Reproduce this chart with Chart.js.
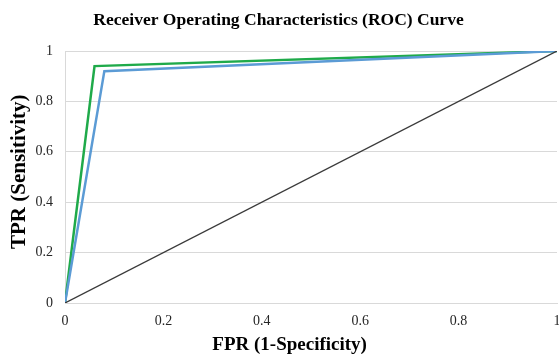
<!DOCTYPE html>
<html>
<head>
<meta charset="utf-8">
<script src="https://cdn.jsdelivr.net/npm/chart.js@4"></script>
<style>
  html, body { margin: 0; padding: 0; background: #fff; }
  #wrap { width: 559px; height: 358px; }
</style>
</head>
<body>
<div id="wrap"><canvas id="myChart" width="559" height="358"></canvas></div>
<script>
// ROC points
const fprGreen = [0, 0.06, 1];
const tprGreen = [0, 0.94, 1];
const fprBlue = [0, 0.08, 1];
const tprBlue = [0, 0.92, 1];
const fprDiag = [0, 1];
const tprDiag = [0, 1];
const tickValues = [0, 0.2, 0.4, 0.6, 0.8, 1];
const tickLabels = ['0', '0.2', '0.4', '0.6', '0.8', '1'];

const toPoints = function (xs, ys) {
    return xs.map((x, i) => ({ x: x, y: ys[i] }));
};

const tickLabel = function (value) {
    let i = tickValues.findIndex(v => Math.abs(v - value) < 1e-6);
    return i >= 0 ? tickLabels[i] : '';
};

const serif = '"Liberation Serif", "DejaVu Serif", serif';

document.addEventListener('DOMContentLoaded', function () {
    let ctx = document.getElementById('myChart').getContext('2d');

    new Chart(ctx, {
        type: 'scatter',
        data: {
            datasets: [
                {
                    label: 'diagonal',
                    data: toPoints(fprDiag, tprDiag),
                    showLine: true,
                    borderColor: '#3a3a3a',
                    borderWidth: 1.3,
                    pointRadius: 0,
                    fill: false
                },
                {
                    label: 'blue',
                    data: toPoints(fprBlue, tprBlue),
                    showLine: true,
                    borderColor: '#5b9bd5',
                    borderWidth: 2.5,
                    pointRadius: 0,
                    fill: false
                },
                {
                    label: 'green',
                    data: toPoints(fprGreen, tprGreen),
                    showLine: true,
                    borderColor: '#1faa4a',
                    borderWidth: 2.5,
                    pointRadius: 0,
                    fill: false
                }
            ]
        },
        options: {
            responsive: false,
            animation: false,
            layout: { padding: { left: 0, right: 2, top: 0, bottom: 0 } },
            plugins: {
                legend: { display: false },
                tooltip: { enabled: false },
                title: {
                    display: true,
                    text: 'Receiver Operating Characteristics (ROC) Curve',
                    color: '#000',
                    font: { family: serif, size: 17.5, weight: 'bold' },
                    padding: { top: 10, bottom: 20 }
                }
            },
            scales: {
                x: {
                    type: 'linear',
                    min: 0,
                    max: 1,
                    afterFit: function (s) {
                        s.height = 55;
                        s.paddingLeft = 0;
                        s.paddingRight = 0;
                    },
                    grid: { display: false, drawTicks: false },
                    border: { display: true, color: '#d9d9d9', width: 1 },
                    ticks: {
                        stepSize: 0.2,
                        padding: 10,
                        color: '#262626',
                        maxRotation: 0,
                        font: { family: serif, size: 14 },
                        callback: tickLabel
                    },
                    title: {
                        display: true,
                        // trailing spaces nudge the title left like in the original
                        text: 'FPR (1-Specificity)         ',
                        color: '#000',
                        font: { family: serif, size: 19, weight: 'bold' },
                        padding: { top: 0, bottom: 2 }
                    }
                },
                y: {
                    type: 'linear',
                    min: 0,
                    max: 1,
                    afterFit: function (s) {
                        s.width = 65;
                        s.paddingTop = 0;
                        s.paddingBottom = 0;
                    },
                    grid: { color: '#d9d9d9', drawTicks: false },
                    border: { display: true, color: '#d9d9d9', width: 1 },
                    ticks: {
                        stepSize: 0.2,
                        padding: 12,
                        color: '#262626',
                        font: { family: serif, size: 14 },
                        callback: tickLabel
                    },
                    title: {
                        display: true,
                        text: '  TPR (Sensitivity)',
                        color: '#000',
                        font: { family: serif, size: 21, weight: 'bold' },
                        padding: { top: 7, bottom: 0 }
                    }
                }
            }
        }
    });
});
</script>
</body>
</html>
